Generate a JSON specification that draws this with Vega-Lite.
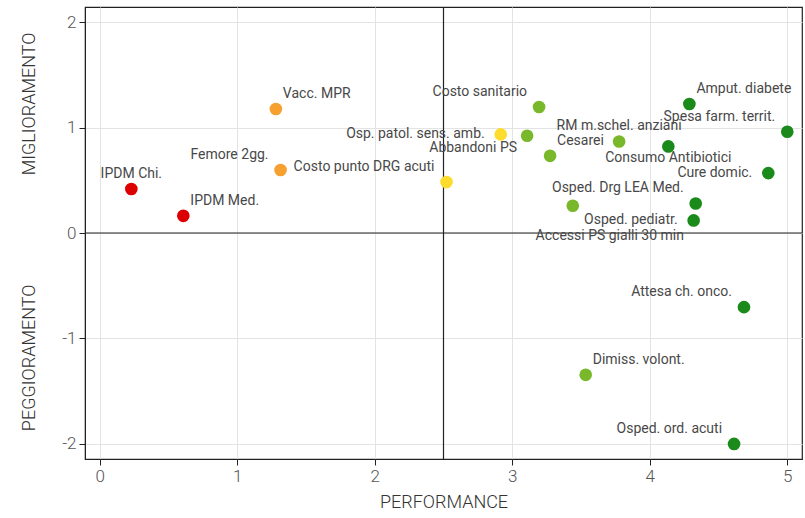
{
  "$schema": "https://vega.github.io/schema/vega-lite/v6.json",
  "width": 717,
  "height": 452,
  "autosize": {"type": "none"},
  "padding": {"left": 85, "top": 7, "right": 3, "bottom": 59},
  "background": "white",
  "config": {
    "view": {"stroke": "#222", "strokeWidth": 1.2},
    "font": "Roboto",
    "axis": {
      "grid": true,
      "gridColor": "#e3e3e3",
      "gridWidth": 1,
      "domainColor": "#222",
      "tickColor": "#222",
      "tickSize": 6,
      "labelFont": "Roboto",
      "labelFontSize": 17,
      "labelFontWeight": 300,
      "labelColor": "#555",
      "labelExpr": "'' + datum.value",
      "titleFont": "Roboto",
      "titleFontSize": 18,
      "titleFontWeight": 300,
      "titleColor": "#333"
    },
    "axisX": {"labelPadding": 3, "titlePadding": 9},
    "axisY": {"labelPadding": 3}
  },
  "datasets": {
    "pts": [
      {"label": "IPDM Chi.", "perf": 0.23, "migl": 0.417, "fascia": "0-1"},
      {"label": "IPDM Med.", "perf": 0.608, "migl": 0.163, "fascia": "0-1"},
      {"label": "Vacc. MPR", "perf": 1.281, "migl": 1.176, "fascia": "1-2"},
      {"label": "Femore 2gg.", "perf": 1.315, "migl": 0.597, "fascia": "1-2"},
      {"label": "Costo punto DRG acuti", "perf": 2.522, "migl": 0.483, "fascia": "2-3"},
      {"label": "Osp. patol. sens. amb.", "perf": 2.916, "migl": 0.935, "fascia": "2-3"},
      {"label": "Abbandoni PS", "perf": 3.108, "migl": 0.922, "fascia": "3-4"},
      {"label": "Costo sanitario", "perf": 3.195, "migl": 1.195, "fascia": "3-4"},
      {"label": "Cesarei", "perf": 3.275, "migl": 0.732, "fascia": "3-4"},
      {"label": "Accessi PS gialli 30 min", "perf": 3.44, "migl": 0.258, "fascia": "3-4"},
      {"label": "RM m.schel. anziani", "perf": 3.777, "migl": 0.868, "fascia": "3-4"},
      {"label": "Dimiss. volont.", "perf": 3.534, "migl": -1.345, "fascia": "3-4"},
      {"label": "Amput. diabete", "perf": 4.288, "migl": 1.223, "fascia": "4-5"},
      {"label": "Spesa farm. territ.", "perf": 5.0, "migl": 0.96, "fascia": "4-5"},
      {"label": "Consumo Antibiotici", "perf": 4.135, "migl": 0.821, "fascia": "4-5"},
      {"label": "Cure domic.", "perf": 4.862, "migl": 0.568, "fascia": "4-5"},
      {"label": "Osped. Drg LEA Med.", "perf": 4.334, "migl": 0.28, "fascia": "4-5"},
      {"label": "Osped. pediatr.", "perf": 4.319, "migl": 0.119, "fascia": "4-5"},
      {"label": "Attesa ch. onco.", "perf": 4.685, "migl": -0.703, "fascia": "4-5"},
      {"label": "Osped.  ord. acuti", "perf": 4.613, "migl": -2.0, "fascia": "4-5"}
    ]
  },
  "layer": [
    {
      "data": {"values": [{}]},
      "mark": {"type": "rule", "color": "#222", "strokeWidth": 1.2},
      "encoding": {
        "x": {"datum": 2.5, "type": "quantitative", "scale": {"domain": [-0.107, 5.107], "nice": false, "zero": false}, "title": "PERFORMANCE", "axis": {"values": [0, 1, 2, 3, 4, 5]}}
      }
    },
    {
      "data": {"values": [{}]},
      "mark": {"type": "rule", "color": "#222", "strokeWidth": 1.2},
      "encoding": {
        "y": {"datum": 0, "type": "quantitative", "scale": {"domain": [-2.143, 2.143], "nice": false, "zero": false}, "title": null, "axis": {"values": [-2, -1, 0, 1, 2]}}
      }
    },
    {
      "data": {"name": "pts"},
      "mark": {"type": "circle", "size": 160, "opacity": 1},
      "encoding": {
        "x": {"field": "perf", "type": "quantitative", "scale": {"domain": [-0.107, 5.107], "nice": false, "zero": false}, "title": "PERFORMANCE", "axis": {"values": [0, 1, 2, 3, 4, 5]}},
        "y": {"field": "migl", "type": "quantitative", "scale": {"domain": [-2.143, 2.143], "nice": false, "zero": false}, "title": null, "axis": {"values": [-2, -1, 0, 1, 2]}},
        "color": {"field": "fascia", "type": "nominal", "legend": null,
          "scale": {"domain": ["0-1", "1-2", "2-3", "3-4", "4-5"], "range": ["#dd0000", "#f6a030", "#fddc2e", "#79b82a", "#1a8a1a"]}}
      }
    },
    {
      "data": {"name": "pts"},
      "transform": [{"filter": {"field": "label", "oneOf": ["Femore 2gg.", "Costo punto DRG acuti", "Costo sanitario", "Spesa farm. territ.", "Attesa ch. onco.", "Osped.  ord. acuti", "Osped. Drg LEA Med."]}}],
      "mark": {"type": "text", "align": "right", "baseline": "middle", "dx": -12, "dy": -15, "fontSize": 14, "font": "Roboto", "color": "#484848", "clip": false},
      "encoding": {
        "x": {"field": "perf", "type": "quantitative", "scale": {"domain": [-0.107, 5.107], "nice": false, "zero": false}, "title": "PERFORMANCE"},
        "y": {"field": "migl", "type": "quantitative", "scale": {"domain": [-2.143, 2.143], "nice": false, "zero": false}, "title": null},
        "text": {"field": "label"}
      }
    },
    {
      "data": {"name": "pts"},
      "transform": [{"filter": {"field": "label", "oneOf": ["Osp. patol. sens. amb.", "Osped. pediatr.", "Cure domic."]}}],
      "mark": {"type": "text", "align": "right", "baseline": "middle", "dx": -16, "dy": 0, "fontSize": 14, "font": "Roboto", "color": "#484848", "clip": false},
      "encoding": {
        "x": {"field": "perf", "type": "quantitative", "scale": {"domain": [-0.107, 5.107], "nice": false, "zero": false}, "title": "PERFORMANCE"},
        "y": {"field": "migl", "type": "quantitative", "scale": {"domain": [-2.143, 2.143], "nice": false, "zero": false}, "title": null},
        "text": {"field": "label"}
      }
    },
    {
      "data": {"name": "pts"},
      "transform": [{"filter": {"field": "label", "oneOf": ["Amput. diabete", "IPDM Med.", "Vacc. MPR", "Dimiss. volont.", "Cesarei"]}}],
      "mark": {"type": "text", "align": "left", "baseline": "middle", "dx": 7, "dy": -15, "fontSize": 14, "font": "Roboto", "color": "#484848", "clip": false},
      "encoding": {
        "x": {"field": "perf", "type": "quantitative", "scale": {"domain": [-0.107, 5.107], "nice": false, "zero": false}, "title": "PERFORMANCE"},
        "y": {"field": "migl", "type": "quantitative", "scale": {"domain": [-2.143, 2.143], "nice": false, "zero": false}, "title": null},
        "text": {"field": "label"}
      }
    },
    {
      "data": {"name": "pts"},
      "transform": [{"filter": {"field": "label", "oneOf": ["IPDM Chi.", "RM m.schel. anziani"]}}],
      "mark": {"type": "text", "align": "center", "baseline": "middle", "dx": 0, "dy": -15, "fontSize": 14, "font": "Roboto", "color": "#484848", "clip": false},
      "encoding": {
        "x": {"field": "perf", "type": "quantitative", "scale": {"domain": [-0.107, 5.107], "nice": false, "zero": false}, "title": "PERFORMANCE"},
        "y": {"field": "migl", "type": "quantitative", "scale": {"domain": [-2.143, 2.143], "nice": false, "zero": false}, "title": null},
        "text": {"field": "label"}
      }
    },
    {
      "data": {"name": "pts"},
      "transform": [{"filter": {"field": "label", "oneOf": ["Consumo Antibiotici"]}}],
      "mark": {"type": "text", "align": "center", "baseline": "middle", "dx": 0, "dy": 12, "fontSize": 14, "font": "Roboto", "color": "#484848", "clip": false},
      "encoding": {
        "x": {"field": "perf", "type": "quantitative", "scale": {"domain": [-0.107, 5.107], "nice": false, "zero": false}, "title": "PERFORMANCE"},
        "y": {"field": "migl", "type": "quantitative", "scale": {"domain": [-2.143, 2.143], "nice": false, "zero": false}, "title": null},
        "text": {"field": "label"}
      }
    },
    {
      "data": {"name": "pts"},
      "transform": [{"filter": {"field": "label", "oneOf": ["Abbandoni PS"]}}],
      "mark": {"type": "text", "align": "right", "baseline": "middle", "dx": -10, "dy": 12, "fontSize": 14, "font": "Roboto", "color": "#484848", "clip": false},
      "encoding": {
        "x": {"field": "perf", "type": "quantitative", "scale": {"domain": [-0.107, 5.107], "nice": false, "zero": false}, "title": "PERFORMANCE"},
        "y": {"field": "migl", "type": "quantitative", "scale": {"domain": [-2.143, 2.143], "nice": false, "zero": false}, "title": null},
        "text": {"field": "label"}
      }
    },
    {
      "data": {"name": "pts"},
      "transform": [{"filter": {"field": "label", "oneOf": ["Accessi PS gialli 30 min"]}}],
      "mark": {"type": "text", "align": "center", "baseline": "middle", "dx": 37, "dy": 30, "fontSize": 14, "font": "Roboto", "color": "#484848", "clip": false},
      "encoding": {
        "x": {"field": "perf", "type": "quantitative", "scale": {"domain": [-0.107, 5.107], "nice": false, "zero": false}, "title": "PERFORMANCE"},
        "y": {"field": "migl", "type": "quantitative", "scale": {"domain": [-2.143, 2.143], "nice": false, "zero": false}, "title": null},
        "text": {"field": "label"}
      }
    },
    {
      "data": {"values": [{}]},
      "mark": {"type": "text", "angle": 270, "align": "center", "baseline": "middle", "fontSize": 18, "fontWeight": 300, "font": "Roboto", "color": "#333", "clip": false},
      "encoding": {
        "x": {"datum": -0.509, "type": "quantitative", "scale": {"domain": [-0.107, 5.107], "nice": false, "zero": false}, "title": "PERFORMANCE"},
        "y": {"datum": 1.224, "type": "quantitative", "scale": {"domain": [-2.143, 2.143], "nice": false, "zero": false}, "title": null},
        "text": {"value": "MIGLIORAMENTO"}
      }
    },
    {
      "data": {"values": [{}]},
      "mark": {"type": "text", "angle": 270, "align": "center", "baseline": "middle", "fontSize": 18, "fontWeight": 300, "font": "Roboto", "color": "#333", "clip": false},
      "encoding": {
        "x": {"datum": -0.509, "type": "quantitative", "scale": {"domain": [-0.107, 5.107], "nice": false, "zero": false}, "title": "PERFORMANCE"},
        "y": {"datum": -1.184, "type": "quantitative", "scale": {"domain": [-2.143, 2.143], "nice": false, "zero": false}, "title": null},
        "text": {"value": "PEGGIORAMENTO"}
      }
    }
  ]
}
